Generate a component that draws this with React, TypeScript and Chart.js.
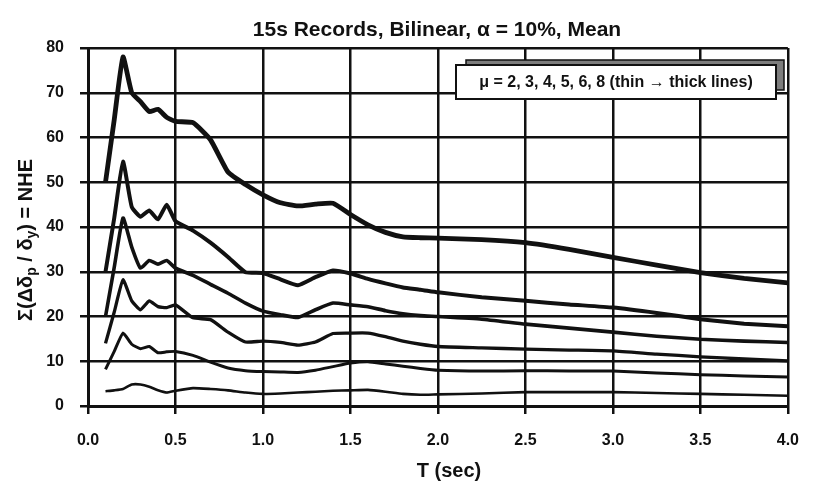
import React, { useEffect, useRef } from "react";
import { Chart, registerables } from "chart.js";

Chart.register(...registerables);

// Period T (sec)
const T = [0.1, 0.15, 0.2, 0.25, 0.3, 0.35, 0.4, 0.45, 0.5, 0.6, 0.7, 0.8, 0.9, 1.0, 1.1, 1.2, 1.3, 1.4, 1.5, 1.6, 1.7, 1.8, 1.9, 2.0, 2.25, 2.5, 2.75, 3.0, 3.25, 3.5, 3.75, 4.0];

// Mean NHE for each ductility level
const MU2 = [3.3, 3.5, 3.8, 4.8, 4.8, 4.3, 3.5, 3.0, 3.4, 4.0, 3.8, 3.5, 3.0, 2.7, 2.8, 3.0, 3.2, 3.4, 3.5, 3.6, 3.2, 2.7, 2.5, 2.6, 2.8, 3.1, 3.1, 3.1, 2.9, 2.7, 2.5, 2.3];
const MU3 = [8.2, 12.2, 16.3, 13.8, 12.8, 13.3, 11.9, 12.1, 12.2, 11.3, 9.8, 8.5, 7.9, 7.7, 7.6, 7.5, 8.0, 8.8, 9.6, 9.9, 9.4, 8.9, 8.4, 8.0, 7.8, 7.9, 7.8, 7.8, 7.4, 7.0, 6.7, 6.5];
const MU4 = [14, 21, 28.2, 23.5, 21.5, 23.5, 22.2, 22.0, 22.6, 19.7, 19.3, 16.5, 14.3, 14.5, 14.2, 13.6, 14.3, 16.2, 16.3, 16.3, 15.5, 14.5, 13.8, 13.3, 13.0, 12.7, 12.5, 12.3, 11.6, 11.0, 10.5, 10.1];
const MU5 = [20, 31, 42, 35.5, 30.8, 32.5, 31.7, 32.5, 30.8, 29.2, 27.2, 25.2, 23.0, 21.2, 20.4, 19.8, 21.5, 23.0, 22.6, 22.2, 21.3, 20.6, 20.2, 20.0, 19.4, 18.3, 17.4, 16.5, 15.6, 14.9, 14.5, 14.2];
const MU6 = [30, 42, 54.6, 44.5, 42.3, 43.7, 41.7, 45.0, 41.3, 39.2, 36.5, 33.3, 29.9, 29.7, 28.3, 27.0, 28.8, 30.3, 29.6, 28.4, 27.4, 26.5, 26.0, 25.4, 24.3, 23.5, 22.7, 22.0, 20.8, 19.4, 18.4, 17.8];
const MU8 = [50, 64, 78, 70, 68, 65.8, 66.3, 64.5, 63.6, 63.3, 59.5, 52.3, 49.5, 47.2, 45.4, 44.7, 45.1, 45.3, 42.8, 40.5, 38.8, 37.8, 37.6, 37.5, 37.2, 36.5, 35.0, 33.2, 31.5, 29.8, 28.5, 27.5];

const SERIES_NAMES = ["μ = 2", "μ = 3", "μ = 4", "μ = 5", "μ = 6", "μ = 8"];
const SERIES_VALUES = [MU2, MU3, MU4, MU5, MU6, MU8];
const LINE_WIDTHS = [2.6, 3.0, 3.3, 3.6, 4.0, 4.8];

const TITLE = "15s Records, Bilinear, α = 10%, Mean";
const X_TITLE = "T (sec)";
const LEGEND_TEXT = "μ = 2, 3, 4, 5, 6, 8 (thin → thick lines)";

const FONT = '"Liberation Sans", Arial, sans-serif';

const textPlugin = {
  id: "scanTexts",
  afterDraw(chart: any) {
    const ctx = chart.ctx as CanvasRenderingContext2D;
    ctx.save();
    ctx.fillStyle = "#111";
    // Title
    ctx.font = `bold 21px ${FONT}`;
    ctx.textAlign = "center";
    ctx.textBaseline = "middle";
    ctx.fillText(TITLE, 437, 30);
    // X title
    ctx.font = `bold 20px ${FONT}`;
    ctx.fillText(X_TITLE, 449, 471);

    // Y title with subscripts
    const segs = [
      { t: "Σ(Δδ", sub: false },
      { t: "p", sub: true },
      { t: " / δ", sub: false },
      { t: "y", sub: true },
      { t: ") = NHE", sub: false },
    ];
    const mainF = `bold 20px ${FONT}`;
    const subF = `bold 14px ${FONT}`;
    let total = 0;
    for (const s of segs) {
      ctx.font = s.sub ? subF : mainF;
      total += ctx.measureText(s.t).width;
    }
    ctx.translate(25, 240);
    ctx.rotate(-Math.PI / 2);
    ctx.textAlign = "left";
    ctx.textBaseline = "alphabetic";
    let x = -total / 2;
    for (const s of segs) {
      ctx.font = s.sub ? subF : mainF;
      ctx.fillText(s.t, x, s.sub ? 11 : 7);
      x += ctx.measureText(s.t).width;
    }
    ctx.restore();

    // Legend box with shadow
    ctx.save();
    ctx.fillStyle = "#7d7d7d";
    ctx.fillRect(466, 60, 318, 30);
    ctx.strokeStyle = "#111";
    ctx.lineWidth = 1.5;
    ctx.strokeRect(466, 60, 318, 30);
    ctx.fillStyle = "#fff";
    ctx.fillRect(456, 65, 320, 34);
    ctx.lineWidth = 2;
    ctx.strokeRect(456, 65, 320, 34);
    ctx.fillStyle = "#111";
    ctx.font = `bold 16px ${FONT}`;
    ctx.textAlign = "center";
    ctx.textBaseline = "middle";
    ctx.fillText(LEGEND_TEXT, 616, 83);
    ctx.restore();
  },
};

export default function App() {
  const ref = useRef<HTMLCanvasElement>(null);
  useEffect(() => {
    const canvas = ref.current;
    if (!canvas) return;
    const datasets = SERIES_VALUES.map((vals, i) => ({
      label: SERIES_NAMES[i],
      data: T.map((t, j) => ({ x: t, y: vals[j] })),
      borderColor: "#111",
      backgroundColor: "#111",
      borderWidth: LINE_WIDTHS[i],
      pointRadius: 0,
      tension: 0.15,
      fill: false,
    }));
    const chart = new Chart(canvas, {
      type: "line",
      data: { datasets },
      options: {
        animation: false,
        responsive: false,
        devicePixelRatio: 1,
        layout: { padding: { top: 48, right: 21, left: 0, bottom: 0 } },
        plugins: {
          legend: { display: false },
          title: { display: false },
          tooltip: { enabled: false },
        },
        scales: {
          x: {
            type: "linear",
            min: 0,
            max: 4,
            afterFit: (s: any) => {
              s.height = 79;
            },
            ticks: {
              stepSize: 0.5,
              callback: (v: any) => Number(v).toFixed(1),
              color: "#111",
              font: { family: FONT, size: 16, weight: "bold" },
              padding: 17,
              maxRotation: 0,
            },
            grid: { color: "#111", lineWidth: 2.5, tickLength: 8, tickColor: "#111", tickWidth: 2.5 },
            border: { color: "#111", width: 3 },
          },
          y: {
            type: "linear",
            min: 0,
            max: 80,
            afterFit: (s: any) => {
              s.width = 88;
            },
            ticks: {
              stepSize: 10,
              color: "#111",
              font: { family: FONT, size: 16, weight: "bold" },
              padding: 16,
            },
            grid: { color: "#111", lineWidth: 2.5, tickLength: 8, tickColor: "#111", tickWidth: 2.5 },
            border: { color: "#111", width: 3 },
          },
        },
      },
      plugins: [textPlugin],
    });
    return () => chart.destroy();
  }, []);
  return (
    <div style={{ position: "fixed", left: 0, top: 0, width: 816, height: 485, background: "#fff" }}>
      <canvas ref={ref} width={816} height={485} style={{ display: "block", width: 816, height: 485 }} />
    </div>
  );
}
